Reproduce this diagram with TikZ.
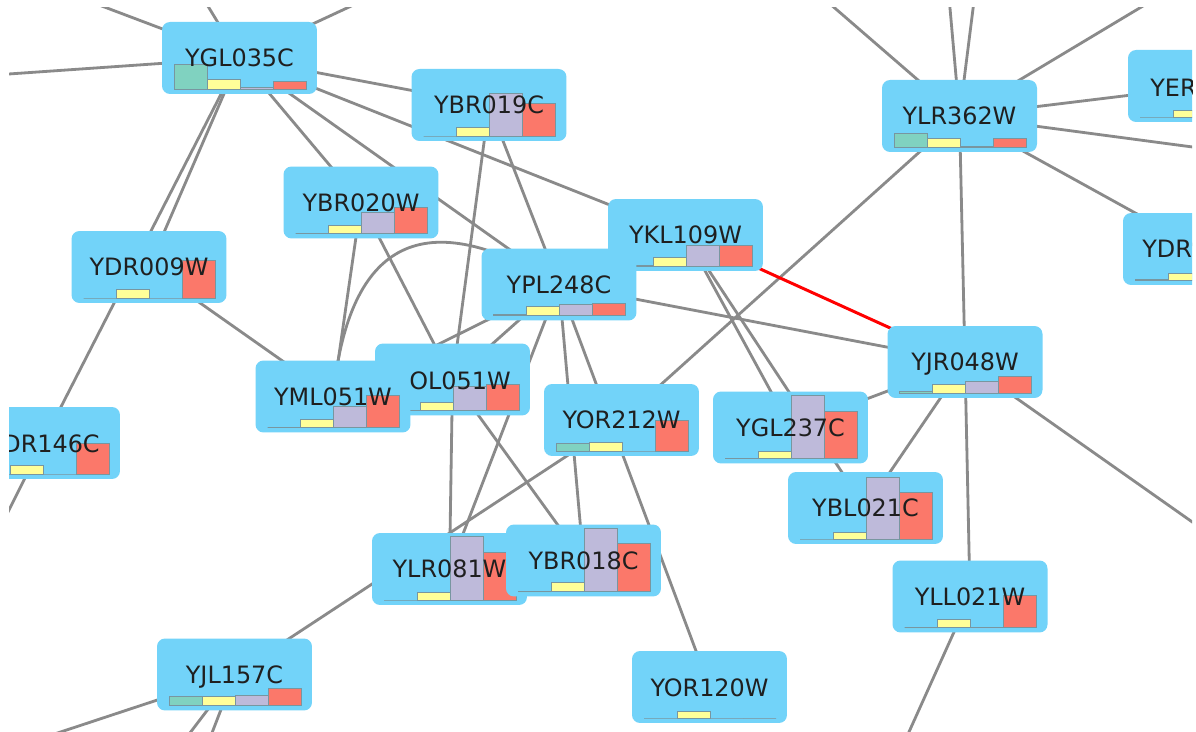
\documentclass[tikz,border=0pt]{standalone}
\usepackage{fontspec}
\setmainfont{DejaVu Sans}
\definecolor{nodeblue}{RGB}{114,211,249}
\definecolor{cteal}{RGB}{128,210,192}
\definecolor{cyel}{RGB}{255,255,153}
\definecolor{clav}{RGB}{190,186,218}
\definecolor{cred}{RGB}{251,120,106}
\definecolor{edgegray}{RGB}{138,138,138}
\definecolor{barline}{RGB}{120,150,160}
\tikzset{
  genebox/.style={rectangle, rounded corners=0.16cm, fill=nodeblue, minimum width=3.1cm, minimum height=1.44cm, inner sep=0pt},
  bar/.style={draw=barline, line width=0.3pt},
  lbl/.style={font=\fontsize{13.6pt}{16pt}\selectfont, inner sep=0pt, text=black!88},
  link/.style={draw=edgegray, line width=1.6pt},
  redlink/.style={draw=red, line width=1.7pt}
}
\newcommand\gene[7]{%
  \node[genebox] (#1-box) at (#2,#3) {};
  \filldraw[bar, fill=cteal] (#2-65.5,#3+31) rectangle ++(33,-#4);
  \filldraw[bar, fill=cyel] (#2-32.5,#3+31) rectangle ++(33,-#5);
  \filldraw[bar, fill=clav] (#2+0.5,#3+31) rectangle ++(33,-#6);
  \filldraw[bar, fill=cred] (#2+33.5,#3+31) rectangle ++(33,-#7);
}
\begin{document}
\begin{tikzpicture}[x=0.02cm, y=-0.02cm]
\useasboundingbox (0,0) rectangle (1196,732);
\fill[white] (0,0) rectangle (1196,732);
\begin{scope}
\clip (9,8) rectangle (1192,732);
% node centres
\coordinate (ygl35) at (239.5,58);
\coordinate (ybr19) at (489,105);
\coordinate (ylr362) at (959.5,116);
\coordinate (yer) at (1205.5,86);
\coordinate (ybr20) at (361,202.5);
\coordinate (ydr9) at (149,267);
\coordinate (ydr) at (1200.5,249);
\coordinate (ykl) at (685.5,235);
\coordinate (ypl) at (559,284.5);
\coordinate (yml) at (333,396.5);
\coordinate (yol) at (452.5,379.5);
\coordinate (ydr146) at (42.5,443);
\coordinate (yor212) at (621.5,420);
\coordinate (ygl237) at (790.5,427.5);
\coordinate (yjr) at (965,362);
\coordinate (ybl) at (865.5,508);
\coordinate (yll) at (970,596.5);
\coordinate (ylr81) at (449.5,569);
\coordinate (ybr18) at (583.5,560.5);
\coordinate (yor120) at (709.5,687);
\coordinate (yjl) at (234.5,674.5);
% free ends
\coordinate (f1) at (80.5,-2);
\coordinate (f2) at (203,-2);
\coordinate (f3) at (368.5,-2);
\coordinate (f4) at (-20,76);
\coordinate (f5) at (2,524);
\coordinate (f6) at (822,-3);
\coordinate (f7) at (949,-3);
\coordinate (f8) at (974.5,-3);
\coordinate (f9) at (1158,-3);
\coordinate (f10) at (1215,150);
\coordinate (f11) at (1215,538);
\coordinate (f12) at (904,743);
\coordinate (f13) at (50,735.5);
\coordinate (f14) at (188,735.5);
\coordinate (f15) at (211,735.5);
% edges
\draw[link] (ygl35) -- (f1);
\draw[link] (ygl35) -- (f2);
\draw[link] (ygl35) -- (f3);
\draw[link] (ygl35) -- (f4);
\draw[link] (ygl35) -- (ybr19);
\draw[link] (ygl35) -- (ykl);
\draw[link] (ygl35) -- (ybr20);
\draw[link] (ygl35) -- (ypl);
\draw[link] (ygl35) -- (ydr9);
\draw[link] (ygl35) -- (ydr146);
\draw[link] (ydr146) -- (f5);
\draw[link] (ydr9) -- (yml);
\draw[link] (ybr20) -- (yml);
\draw[link] (ybr20) -- (yol);
\draw[link] (yml) -- (ypl);
\draw[link] (yml) .. controls (349,239.8) and (424.3,202.5) .. (ypl);
\draw[link] (ybr19) -- (yol);
\draw[link] (ybr19) -- (ypl);
\draw[link] (yol) -- (ypl);
\draw[link] (yol) -- (ylr81);
\draw[link] (yol) -- (ybr18);
\draw[link] (ypl) -- (ylr81);
\draw[link] (ypl) -- (ybr18);
\draw[link] (ypl) -- (yor120);
\draw[link] (ypl) -- (yjr);
\draw[link] (ykl) -- (ygl237);
\draw[link] (ykl) -- (ybl);
\draw[link] (ylr362) -- (f6);
\draw[link] (ylr362) -- (f7);
\draw[link] (ylr362) -- (f8);
\draw[link] (ylr362) -- (f9);
\draw[link] (ylr362) -- (f10);
\draw[link] (ylr362) -- (yer);
\draw[link] (ylr362) -- (ydr);
\draw[link] (ylr362) -- (yor212);
\draw[link] (ylr362) -- (yjr);
\draw[link] (yjr) -- (ygl237);
\draw[link] (yjr) -- (ybl);
\draw[link] (yjr) -- (yll);
\draw[link] (yjr) -- (f11);
\draw[link] (yll) -- (f12);
\draw[link] (yor212) -- (yjl);
\draw[link] (yjl) -- (f13);
\draw[link] (yjl) -- (f14);
\draw[link] (yjl) -- (f15);
\draw[redlink] (ykl) -- (yjr);
% nodes
\gene{ygl35}{239.5}{58}{25}{10}{2}{8}
\node[lbl, anchor=base] (ygl35-t) at (239.5,67) {YGL035C};
\gene{ybr19}{489}{105}{0}{9}{43}{33}
\node[lbl, anchor=base] (ybr19-t) at (489,114) {YBR019C};
\gene{ylr362}{959.5}{116}{14}{9}{1}{9}
\node[lbl, anchor=base] (ylr362-t) at (959.5,125) {YLR362W};
\gene{yer}{1205.5}{86}{0}{7}{0}{0}
\node[lbl, anchor=base west] (yer-t) at (1150,97) {YER};
\gene{ybr20}{361}{202.5}{0}{8}{21}{26}
\node[lbl, anchor=base] (ybr20-t) at (361,211.5) {YBR020W};
\gene{ydr9}{149}{267}{0}{9}{0}{38}
\node[lbl, anchor=base] (ydr9-t) at (149,276) {YDR009W};
\gene{ydr}{1200.5}{249}{0.5}{7}{0}{0}
\node[lbl, anchor=base west] (ydr-t) at (1142,258) {YDR};
\gene{ykl}{685.5}{235}{0.5}{9}{21}{21}
\node[lbl, anchor=base] (ykl-t) at (685.5,244) {YKL109W};
\gene{ypl}{559}{284.5}{1.5}{9}{11}{12}
\node[lbl, anchor=base] (ypl-t) at (559,293.5) {YPL248C};
\gene{yol}{452.5}{379.5}{0}{8}{24}{26}
\node[lbl, anchor=base] (yol-t) at (460,389.5) {OL051W};
\gene{yml}{333}{396.5}{0}{8}{21}{32}
\node[lbl, anchor=base] (yml-t) at (333,405.5) {YML051W};
\gene{ydr146}{42.5}{443}{0}{9}{0}{31}
\node[lbl, anchor=base east] (ydr146-t) at (100,452.5) {DR146C};
\gene{yor212}{621.5}{420}{8}{9}{0}{31}
\node[lbl, anchor=base] (yor212-t) at (621.5,429) {YOR212W};
\gene{ygl237}{790.5}{427.5}{0}{7}{63}{47}
\node[lbl, anchor=base] (ygl237-t) at (790.5,436.5) {YGL237C};
\gene{yjr}{965}{362}{1.5}{9}{12}{17}
\node[lbl, anchor=base] (yjr-t) at (965,371) {YJR048W};
\gene{ybl}{865.5}{508}{0}{7}{62}{47}
\node[lbl, anchor=base] (ybl-t) at (865.5,517) {YBL021C};
\gene{yll}{970}{596.5}{0}{8}{0}{32}
\node[lbl, anchor=base] (yll-t) at (970,605.5) {YLL021W};
\gene{ylr81}{449.5}{569}{0}{8}{64}{48}
\node[lbl, anchor=base] (ylr81-t) at (449.5,578) {YLR081W};
\gene{ybr18}{583.5}{560.5}{0}{9}{63}{48}
\node[lbl, anchor=base] (ybr18-t) at (583.5,569.5) {YBR018C};
\gene{yor120}{709.5}{687}{0}{7}{0}{0}
\node[lbl, anchor=base] (yor120-t) at (709.5,696) {YOR120W};
\gene{yjl}{234.5}{674.5}{9}{9}{10}{17}
\node[lbl, anchor=base] (yjl-t) at (234.5,683.5) {YJL157C};
\end{scope}
\end{tikzpicture}
\end{document}
